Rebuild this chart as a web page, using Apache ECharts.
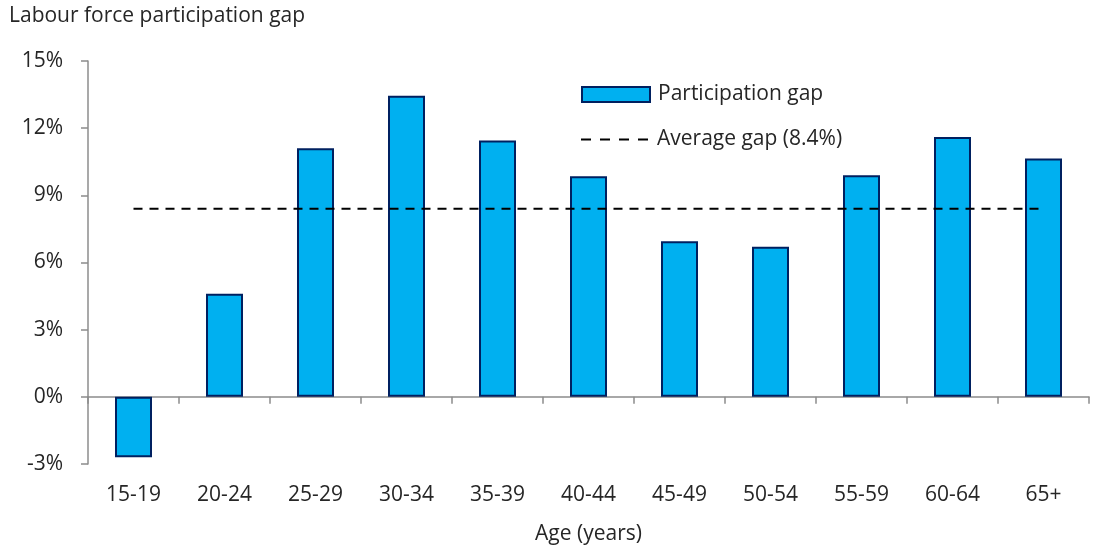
<!DOCTYPE html>
<html>
<head>
<meta charset="utf-8">
<style>
  html, body { margin: 0; padding: 0; background: #fff; }
  #chart { width: 1094px; height: 550px; }
</style>
<script src="https://cdn.jsdelivr.net/npm/echarts@6/dist/echarts.min.js"></script>
</head>
<body>
<div id="chart"></div>
<script>
// Age groups and participation gap (percentage points)
const ageGroups = ['15-19', '20-24', '25-29', '30-34', '35-39', '40-44', '45-49', '50-54', '55-59', '60-64', '65+'];
const participationGap = [-2.7, 4.6, 11.1, 13.45, 11.45, 9.85, 6.95, 6.7, 9.9, 11.6, 10.65];
const averageGap = [8.4, 8.4, 8.4, 8.4, 8.4, 8.4, 8.4, 8.4, 8.4, 8.4, 8.4];
const yTicks = { min: -3, max: 15, step: 3 };

const FONT = '"Open Sans", "Noto Sans", sans-serif';
const FS = 21;
const TEXT = '#262626';
const AXIS = '#8c8c8c';

// four short dashes, drawn as the legend key of the average line
const DASH_ICON = 'path://M0,0H10V2H0Z M19,0H29V2H19Z M38,0H48V2H38Z M57,0H67V2H57Z';

const chart = echarts.init(document.getElementById('chart'));
chart.setOption({
  animation: false,
  textStyle: { fontFamily: FONT },
  title: {
    text: 'Labour force participation gap',
    left: 4, top: 1,
    textStyle: { fontFamily: FONT, fontSize: FS, fontWeight: 'normal', color: TEXT }
  },
  legend: [
    {
      left: 581, top: 84, padding: 0,
      itemWidth: 68, itemHeight: 15,
      textStyle: { fontFamily: FONT, fontSize: FS, color: TEXT, padding: [0, 0, 0, 3] },
      data: [{ name: 'Participation gap', icon: 'rect' }]
    },
    {
      left: 581, top: 129, padding: 0,
      itemWidth: 67, itemHeight: 2,
      textStyle: { fontFamily: FONT, fontSize: FS, color: TEXT, padding: [0, 0, 0, 4] },
      data: [{ name: 'Average gap (8.4%)', icon: DASH_ICON }]
    }
  ],
  grid: { left: 88, right: 5, top: 61, bottom: 85 },
  xAxis: [
    {
      type: 'category',
      data: ageGroups,
      position: 'bottom',
      axisLine: { onZero: true, lineStyle: { color: AXIS, width: 1.5 } },
      axisTick: { show: true, length: 7, alignWithLabel: false, lineStyle: { color: AXIS, width: 1.5 } },
      axisLabel: { show: false }
    },
    {
      type: 'category',
      data: ageGroups,
      position: 'bottom',
      axisLine: { show: false, onZero: false },
      axisTick: { show: false },
      axisLabel: { margin: 21, fontFamily: FONT, fontSize: FS, color: TEXT },
      name: 'Age (years)',
      nameLocation: 'middle',
      nameGap: 60,
      nameTextStyle: { fontFamily: FONT, fontSize: FS, color: TEXT }
    }
  ],
  yAxis: {
    type: 'value',
    min: yTicks.min, max: yTicks.max, interval: yTicks.step,
    splitLine: { show: false },
    axisLine: { show: true, lineStyle: { color: AXIS, width: 1.5 } },
    axisTick: { show: true, length: 7, lineStyle: { color: AXIS, width: 1.5 } },
    axisLabel: { margin: 25, fontFamily: FONT, fontSize: FS, color: TEXT, formatter: '{value}%' }
  },
  series: [
    {
      name: 'Participation gap',
      type: 'bar',
      xAxisIndex: 0,
      data: participationGap,
      barWidth: 37,
      itemStyle: { color: '#00b0f0', borderColor: '#002060', borderWidth: 2 }
    },
    {
      name: 'Average gap (8.4%)',
      type: 'line',
      xAxisIndex: 0,
      data: averageGap,
      symbol: 'none',
      itemStyle: { color: '#000' },
      lineStyle: { color: '#000', width: 2, type: [9, 7] }
    }
  ]
});
</script>
</body>
</html>
